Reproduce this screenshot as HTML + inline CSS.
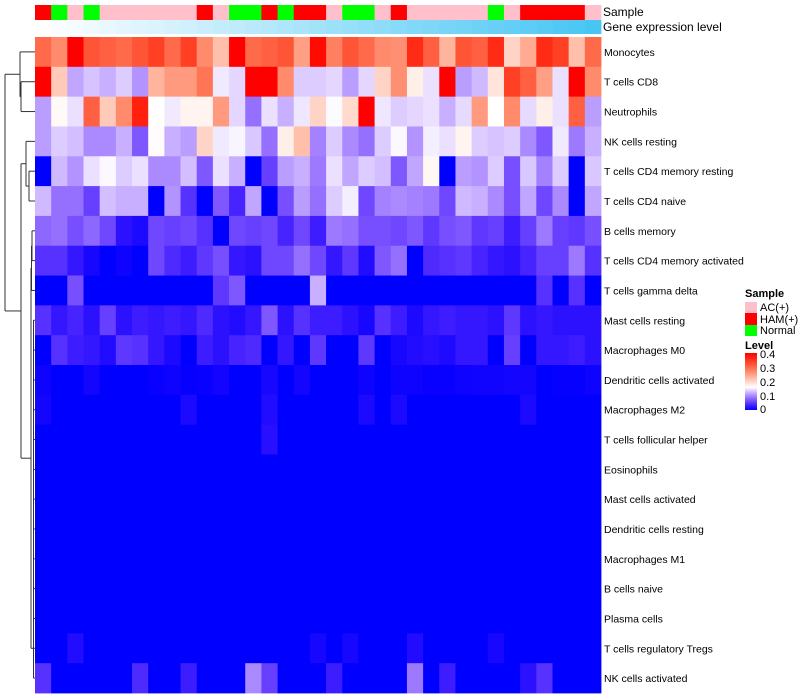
<!DOCTYPE html>
<html><head><meta charset="utf-8"><style>
body{margin:0;background:#fff;}
svg{display:block;font-family:"Liberation Sans",sans-serif;}
</style></head><body>
<svg id="chart" width="800" height="700" xmlns="http://www.w3.org/2000/svg">
<g id="dendro" stroke="#333" stroke-width="1" fill="none"></g>
<g id="annot"></g>
<g id="cells"></g>
<g id="labels" font-size="10.5" fill="#000" style="white-space:pre"></g>
<text x="603" y="16" font-size="12">Sample</text>
<text x="603" y="31" font-size="12">Gene expression level</text>
<g id="legend" font-size="11">
<text x="745" y="297" font-weight="bold">Sample</text>
<rect x="745" y="302" width="12" height="11" fill="#ffc0cb"/>
<text x="760" y="311">AC(+)</text>
<rect x="745" y="313" width="12" height="12" fill="#ff0000"/>
<text x="760" y="323">HAM(+)</text>
<rect x="745" y="325" width="12" height="11" fill="#00ff00"/>
<text x="760" y="334">Normal</text>
<text x="745" y="349" font-weight="bold">Level</text>
<defs><linearGradient id="lg" x1="0" y1="1" x2="0" y2="0"></linearGradient></defs>
<rect x="745" y="353" width="12" height="57" fill="url(#lg)"/>
<text x="760" y="358">0.4</text>
<text x="760" y="372">0.3</text>
<text x="760" y="386">0.2</text>
<text x="760" y="400">0.1</text>
<text x="760" y="413">0</text>
</g>
</svg>
<script>
const rowNames = ["Monocytes","T cells CD8","Neutrophils","NK cells resting","T cells CD4 memory resting","T cells CD4 naive","B cells memory","T cells CD4 memory activated","T cells gamma delta","Mast cells resting","Macrophages M0","Dendritic cells activated","Macrophages M2","T cells follicular helper","Eosinophils","Mast cells activated","Dendritic cells resting","Macrophages M1","B cells naive","Plasma cells","T cells regulatory  Tregs","NK cells activated"];
const sampleGroups = ["HAM","Normal","AC","Normal","AC","AC","AC","AC","AC","AC","HAM","AC","Normal","Normal","HAM","Normal","HAM","HAM","AC","Normal","Normal","AC","HAM","AC","AC","AC","AC","AC","Normal","AC","HAM","HAM","HAM","HAM","AC"];
const geneLevel = [0,0.03,0.06,0.09,0.12,0.15,0.18,0.2,0.23,0.26,0.29,0.32,0.35,0.38,0.41,0.44,0.47,0.5,0.53,0.56,0.59,0.62,0.65,0.68,0.7,0.73,0.76,0.79,0.82,0.85,0.88,0.91,0.94,0.97,1];
const r0 = [0.30,0.27,0.40,0.32,0.31,0.30,0.32,0.34,0.30,0.34,0.27,0.22,0.40,0.30,0.31,0.32,0.25,0.39,0.28,0.32,0.30,0.27,0.265,0.36,0.31,0.23,0.32,0.31,0.36,0.20,0.24,0.36,0.34,0.22,0.30];
const r1 = [0.40,0.21,0.115,0.13,0.12,0.135,0.105,0.23,0.255,0.255,0.29,0.15,0.14,0.40,0.40,0.27,0.135,0.135,0.14,0.11,0.14,0.20,0.265,0.175,0.145,0.40,0.11,0.125,0.185,0.34,0.31,0.25,0.145,0.40,0.27];
const r2 = [0.11,0.165,0.145,0.31,0.21,0.27,0.37,0.16,0.15,0.17,0.17,0.255,0.14,0.085,0.145,0.12,0.148,0.20,0.158,0.195,0.40,0.148,0.135,0.14,0.145,0.12,0.142,0.255,0.16,0.27,0.142,0.175,0.145,0.31,0.11];
const r3 = [0.11,0.135,0.128,0.10,0.10,0.12,0.07,0.163,0.12,0.11,0.20,0.15,0.155,0.132,0.085,0.175,0.22,0.095,0.135,0.10,0.085,0.135,0.157,0.105,0.152,0.145,0.17,0.135,0.13,0.135,0.10,0.07,0.15,0.09,0.12];
const r4 = [0,0.125,0.105,0.145,0.157,0.135,0.145,0.10,0.10,0.128,0.07,0.145,0.12,0,0.055,0.11,0.12,0.09,0.145,0.115,0.135,0.128,0.07,0.115,0.168,0,0.11,0.105,0.135,0.065,0.132,0.095,0.135,0,0.132];
const r5 = [0.125,0.085,0.085,0.055,0.128,0.12,0.12,0,0.105,0.045,0,0.07,0.035,0.115,0,0.065,0.11,0.085,0.135,0.152,0.06,0.095,0.10,0.095,0.09,0.06,0.125,0.12,0.10,0.065,0.115,0.06,0.10,0,0.115];
const r6 = [0.08,0.085,0.065,0.08,0.06,0.02,0.012,0.06,0.055,0.06,0.045,0,0.06,0.055,0.06,0.035,0.06,0.03,0.09,0.085,0.065,0.065,0.06,0.07,0.05,0.065,0.07,0.05,0.055,0.03,0.055,0.09,0.055,0.05,0.065];
const r7 = [0.045,0.045,0.025,0.01,0,0.005,0,0.06,0.04,0.03,0.05,0.065,0.025,0.02,0.06,0.06,0.085,0.06,0.025,0.05,0.015,0.07,0.085,0,0.04,0.045,0.05,0.035,0.025,0.02,0.035,0.055,0.055,0.09,0.045];
const r8 = [0,0,0.065,0,0,0,0,0,0,0,0,0.05,0.07,0,0,0,0,0.12,0,0,0,0,0,0,0,0,0,0,0,0,0,0.045,0,0.045,0];
const r9 = [0.045,0.025,0.035,0.02,0.055,0.02,0.03,0.025,0.03,0.025,0.04,0.02,0.015,0.025,0.07,0.02,0.045,0.03,0.03,0.02,0.01,0.045,0.03,0.012,0.025,0.03,0.025,0.025,0.02,0.05,0.02,0.025,0.02,0.02,0.02];
const r10 = [0,0.045,0.03,0.025,0.015,0.05,0.045,0.025,0.012,0,0.03,0.02,0.035,0.04,0,0.025,0,0.05,0,0,0.05,0,0.01,0.015,0.018,0.013,0.025,0.025,0,0.055,0,0.025,0.025,0.03,0.02];
const r11 = [0.005,0,0,0.008,0,0,0,0.003,0.005,0.002,0.003,0.007,0,0,0.01,0,0.008,0,0,0,0.005,0,0.005,0.005,0.003,0.003,0.005,0.006,0.006,0.008,0.008,0,0.002,0.002,0.005];
const r12 = [0.008,0,0,0,0,0,0,0,0,0.012,0,0,0,0,0.015,0,0,0,0,0,0.012,0,0.012,0,0,0,0,0,0,0,0.012,0,0,0,0];
const r13 = [0,0,0,0,0,0,0,0,0,0,0,0,0,0,0.018,0,0,0,0,0,0,0,0,0,0,0,0,0,0,0,0,0,0,0,0];
const r14 = [0,0,0,0,0,0,0,0,0,0,0,0,0,0,0,0,0,0,0,0,0,0,0,0,0,0,0,0,0,0,0,0,0,0,0];
const r15 = [0,0,0,0,0,0,0,0,0,0,0,0,0,0,0,0,0,0,0,0,0,0,0,0,0,0,0,0,0,0,0,0,0,0,0];
const r16 = [0,0,0,0,0,0,0,0,0,0,0,0,0,0,0,0,0,0,0,0,0,0,0,0,0,0,0,0,0,0,0,0,0,0,0];
const r17 = [0,0,0,0,0,0,0,0,0,0,0,0,0,0,0,0,0,0,0,0,0,0,0,0,0,0,0,0,0,0,0,0,0,0,0];
const r18 = [0,0,0,0,0,0,0,0,0,0,0,0,0,0,0,0,0,0,0,0,0,0,0,0,0,0,0,0,0,0,0,0,0,0,0];
const r19 = [0,0,0,0,0,0,0,0,0,0,0,0,0,0,0,0,0,0,0,0,0,0,0,0,0,0,0,0,0,0,0,0,0,0,0];
const r20 = [0,0,0.015,0,0,0,0,0,0,0,0,0,0,0,0,0,0,0.01,0,0.01,0,0,0,0.015,0,0,0,0,0.01,0,0,0,0,0,0];
const r21 = [0.045,0,0,0,0,0,0.04,0,0,0.03,0,0,0,0.10,0.055,0,0,0,0.03,0,0,0,0,0.09,0,0.03,0,0,0,0,0.02,0.045,0,0,0];
const values = [r0,r1,r2,r3,r4,r5,r6,r7,r8,r9,r10,r11,r12,r13,r14,r15,r16,r17,r18,r19,r20,r21];

const NS="http://www.w3.org/2000/svg";
const X0=35, X1=601, Y0=37, Y1=693;
const nCol=sampleGroups.length, nRow=rowNames.length;
const cw=(X1-X0)/nCol, rh=(Y1-Y0)/nRow;
function xPos(i){return X0+i*cw;}
function yPos(j){return Y0+j*rh;}
function rgbStr(c){return "rgb("+c.map(v=>Math.round(Math.max(0,Math.min(255,v)))).join(",")+")";}
function colorOf(v){
  const midV=0.16,mx=0.4;
  if(v<=midV){
    const t=Math.max(0,v)/midV;
    return rgbStr([255*Math.pow(t,0.85),255*Math.pow(t,1.3),255]);
  }
  const g=Math.min(1,(v-midV)/(mx-midV));
  return rgbStr([255,255*(1-g),255*Math.pow(1-g,1.4)]);
}
function mixRGB(a,b,t){return a.map((v,k)=>v+(b[k]-v)*t);}
const groupColor={AC:"#ffc0cb",HAM:"#ff0000",Normal:"#00ff00"};
function mk(tag,attrs,parent){const el=document.createElementNS(NS,tag);for(const k in attrs)el.setAttribute(k,attrs[k]);parent.appendChild(el);return el;}

const grad=document.getElementById('lg');
for(let k=0;k<=10;k++){
  mk('stop',{offset:k/10,'stop-color':colorOf(0.4*k/10)},grad);
}

const cellsG=document.getElementById('cells');
for(let j=0;j<nRow;j++){for(let i=0;i<nCol;i++){
  const r=mk('rect',{x:xPos(i),y:yPos(j),width:cw+0.4,height:rh+0.4,fill:colorOf(values[j][i])},cellsG);
  
  
}}
const annotG=document.getElementById('annot');
for(let i=0;i<nCol;i++){
  const s=mk('rect',{x:xPos(i),y:5,width:cw+0.4,height:15,fill:groupColor[sampleGroups[i]]},annotG);
  
  
  const g=mk('rect',{x:xPos(i),y:20,width:cw+0.4,height:14,fill:rgbStr(mixRGB([255,255,255],[71,198,244],geneLevel[i]))},annotG);
  
  
}
const labelsG=document.getElementById('labels');
for(let j=0;j<nRow;j++){
  const t=mk('text',{x:604,y:yPos(j)+rh/2+4},labelsG);
  t.textContent=rowNames[j];
  
  
}
const dendroG=document.getElementById('dendro');
function cy(j){return yPos(j)+rh/2;}
function seg(x1,y1,x2,y2){
  const l=mk('line',{x1:x1,y1:y1,x2:x2,y2:y2},dendroG);
  
  
}
function join(x,ya,xa,yb,xb){seg(xa,ya,x,ya);seg(xb,yb,x,yb);seg(x,ya,x,yb);return (ya+yb)/2;}
const LX=35;
const nA=join(21,cy(1),LX,cy(2),LX);
const nTop=join(20,cy(0),LX,nA,21);
const nB=join(29,cy(4),LX,cy(5),LX);
const nMid=join(26,cy(3),LX,nB,29);
const nE=join(32,cy(6),LX,cy(7),LX);
const nF=join(31.5,nE,32,cy(8),LX);
let nRest=cy(9);
for(let j=10;j<nRow;j++){nRest=join(33.5,nRest,j===10?LX:33.5,cy(j),LX);}
const nG=join(31,nF,31.5,nRest,33.5);
const nH=join(21,nMid,26,nG,31);
join(5,nTop,20,nH,21);
</script>
</body></html>
